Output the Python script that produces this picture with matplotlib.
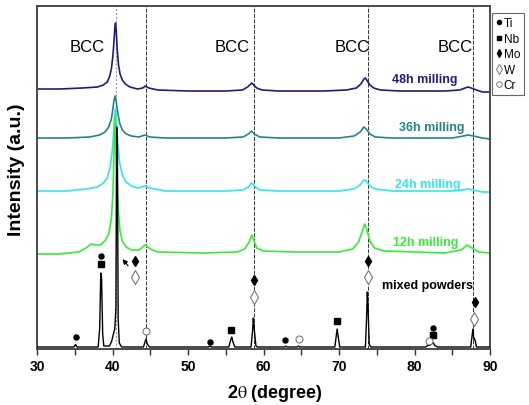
import matplotlib
matplotlib.use("Agg")
import matplotlib.pyplot as plt
from matplotlib.lines import Line2D

plt.rcParams['font.family'] = ['Liberation Sans', 'DejaVu Sans']
plt.rcParams['mathtext.fontset'] = 'stix'

# XRD patterns (2theta in degree, intensity in a.u. incl. stacking offset)
tt_48h = [30, 33, 36, 38, 38.8, 39.3, 39.6, 39.85, 40.05, 40.2, 40.32, 40.4, 40.5, 40.62, 40.8, 41.0,
          41.3, 41.7, 42.3, 43.3, 44.0, 44.35, 44.8, 46, 50, 55, 57.2, 57.9, 58.3, 58.45, 58.7, 59.1,
          59.8, 62, 68, 71, 72.3, 72.9, 73.3, 73.5, 73.75, 74.1, 74.6, 75.5, 78, 84, 86.0, 86.7, 87.1,
          87.5, 88.2, 89, 90]
i_48h = [260, 260, 261, 262, 264, 267, 272, 280, 293, 308, 322, 326, 318, 300, 284, 275,
         269, 265, 262, 260, 261, 263, 261, 259, 258, 258, 259, 262, 265, 266, 264, 261,
         259, 258, 258, 259, 261, 265, 270, 271, 268, 264, 261, 259, 258, 258, 259, 261, 262,
         261, 259, 257, 257]

tt_36h = [30, 34, 37, 38.3, 39.0, 39.5, 39.85, 40.05, 40.2, 40.35, 40.5, 40.7, 40.95, 41.3, 41.8,
          42.5, 43.5, 44.3, 44.9, 47, 55, 57.3, 58.0, 58.4, 58.8, 59.5, 62, 70, 72.0, 72.8, 73.3,
          73.6, 74.1, 74.8, 77, 85, 86.5, 87.1, 87.8, 89, 90]
i_36h = [211, 211, 212, 214, 217, 222, 230, 240, 249, 253, 247, 236, 226, 219, 215,
         213, 212, 214, 212, 211, 211, 212, 215, 218, 215, 212, 211, 211, 213, 217, 222,
         220, 215, 212, 211, 211, 213, 214, 213, 211, 210]

tt_24h = [30, 34, 36.5, 37.3, 38.0, 38.8, 39.3, 39.7, 40.0, 40.2, 40.35, 40.5, 40.7, 40.95, 41.3,
          41.8, 42.5, 43.4, 44.3, 44.9, 47, 55, 57.3, 58.0, 58.4, 58.8, 59.5, 62, 70, 72.0, 72.8,
          73.3, 73.6, 74.1, 74.8, 77, 85, 86.4, 87.0, 87.7, 89, 90]
i_24h = [158, 158, 160, 161, 162, 166, 171, 182, 200, 222, 240, 230, 205, 186, 174,
         167, 163, 161, 163, 161, 158, 158, 159, 162, 166, 163, 159, 158, 158, 160, 164,
         169, 168, 163, 160, 158, 158, 159, 160, 159, 157, 157]

tt_12h = [30, 33, 35.5, 36.5, 37.2, 37.8, 38.4, 39.0, 39.5, 39.85, 40.05, 40.2, 40.3, 40.42, 40.6,
          40.8, 41.0, 41.3, 41.8, 42.5, 43.5, 44.35, 45.0, 46, 52, 56.5, 57.5, 58.1, 58.45, 58.7,
          59.1, 60, 64, 70, 71.8, 72.6, 73.1, 73.4, 73.7, 74.1, 74.7, 76, 84, 86.2, 87.0, 87.6,
          88.5, 90]
i_12h = [95, 95, 97, 101, 105, 104, 104, 108, 115, 130, 155, 195, 232, 215, 170,
         135, 118, 108, 102, 99, 99, 104, 100, 97, 96, 97, 100, 107, 114, 109,
         101, 98, 97, 97, 100, 107, 118, 125, 119, 108, 101, 98, 96, 99, 104, 101,
         97, 96]

tt_mix = [30, 34.9, 35.1, 35.3, 38.1, 38.3, 38.45, 38.55, 38.7, 38.85, 39.6, 39.9, 40.15, 40.3,
          40.45, 40.55, 40.65, 40.75, 40.9, 41.2, 44.1, 44.3, 44.45, 44.6, 44.9, 52.7, 52.9, 53.1,
          55.4, 55.65, 55.8, 55.95, 56.2, 58.35, 58.55, 58.65, 58.75, 58.85, 59.0, 59.2, 62.8,
          62.95, 63.1, 64.5, 64.65, 64.8, 69.45, 69.65, 69.75, 69.9, 70.1, 73.5, 73.65, 73.75,
          73.85, 74.0, 74.2, 81.5, 81.8, 82.0, 82.2, 82.45, 82.7, 83.0, 87.45, 87.65, 87.75,
          87.85, 87.95, 88.05, 88.2, 90]
i_mix = [2, 2, 4.5, 2, 2, 20, 76, 72, 15, 3, 3, 8, 16, 20,
         40, 222, 200, 30, 6, 2, 2, 7, 10, 5, 2, 2, 3, 2,
         2, 9, 12, 7, 2, 2, 18, 31, 22, 14, 3, 2, 2,
         2.8, 2, 2, 3, 2, 2, 14, 20, 12, 2, 2, 30, 57,
         42, 5, 2, 2, 4, 3.5, 4.5, 6.5, 3.5, 2, 2, 15, 20,
         10, 10, 8, 2, 2]

# phase markers on the mixed powder pattern
ti_x, ti_y = [35.1, 38.5, 52.9, 62.9, 82.4], [12, 93, 7, 9, 21]
nb_x, nb_y = [38.5, 55.7, 69.8, 82.4], [85, 19, 28, 14]
mo_x, mo_y = [43.0, 58.8, 73.8, 88.0], [88, 69, 88, 47]
w_x, w_y = [43.0, 58.8, 73.8, 87.9], [72, 52, 72, 30]
cr_x, cr_y = [44.4, 64.7, 81.9], [18, 10, 8]

bcc_lines = [44.4, 58.7, 73.8, 87.8]
bcc_label_x = [36.6, 55.8, 71.7, 85.4]

fig = plt.figure(figsize=(5.29, 4.06), dpi=100)
ax = fig.add_axes([37/529, 56/406, 453/529, 343/406])

# reference lines
ax.axvline(40.5, color='#9a9a9a', lw=0.8, ls=(0, (2, 1.5)), zorder=1)
for x in bcc_lines:
    ax.axvline(x, color='#333333', lw=0.7, ls=(0, (4, 1.5)), zorder=1)

ax.plot(tt_48h, i_48h, color='#1c1c84', lw=1.2, zorder=2)
ax.plot(tt_36h, i_36h, color='#238585', lw=1.2, zorder=2)
ax.plot(tt_24h, i_24h, color='#33e5ea', lw=1.2, zorder=2)
ax.plot(tt_12h, i_12h, color='#33ee33', lw=1.2, zorder=2)
ax.plot(tt_mix, i_mix, color='black', lw=1.0, zorder=3)

ax.plot(ti_x, ti_y, 'o', ms=3.6, color='black', zorder=4)
ax.plot(nb_x, nb_y, 's', ms=4.3, color='black', zorder=4)
ax.plot(mo_x, mo_y, 'd', ms=5.5, color='black', zorder=4)
ax.plot(w_x, w_y, 'd', ms=7, mfc='white', mec='#777777', mew=0.8, zorder=4)
ax.plot(cr_x, cr_y, 'o', ms=5, mfc='white', mec='#777777', mew=0.8, zorder=4)

ax.annotate('', xy=(41.1, 92), xytext=(42.3, 81),
            arrowprops=dict(arrowstyle='-|>', color='black', lw=0.8, mutation_scale=7))

for x in bcc_label_x:
    ax.text(x, 302, 'BCC', fontsize=12, ha='center', va='center')

lab_kw = dict(fontsize=9, fontweight='bold', ha='center', va='center')
ax.text(81.3, 270, '48h milling', color='#1c1c84', **lab_kw)
ax.text(82.3, 222, '36h milling', color='#238585', **lab_kw)
ax.text(81.7, 165, '24h milling', color='#33e5ea', **lab_kw)
ax.text(81.5, 107, '12h milling', color='#33ee33', **lab_kw)
ax.text(81.7, 64, 'mixed powders', color='black', **lab_kw)

ax.set_xlim(30, 90)
ax.set_ylim(0, 343)
ax.set_xticks(range(30, 91, 10))
ax.set_xticks(range(35, 90, 10), minor=True)
ax.tick_params(axis='x', which='both', direction='out', length=4, width=1, colors='#333333',
               labelsize=10, labelcolor='black', pad=3)
ax.set_yticks([])
for lbl in ax.get_xticklabels():
    lbl.set_fontweight('bold')
for s in ax.spines.values():
    s.set_color('#4a4a4a')
    s.set_linewidth(1.4)

ax.set_xlabel(r'2$\mathrm{\theta}$ (degree)', fontsize=13, fontweight='bold')
ax.xaxis.set_label_coords(0.525, -0.095)
ax.set_ylabel('Intensity (a.u.)', fontsize=14, fontweight='bold')
ax.yaxis.set_label_coords(-0.027, 0.525)

handles = [Line2D([], [], ls='none', marker='o', ms=3, color='black'),
           Line2D([], [], ls='none', marker='s', ms=3.5, color='black'),
           Line2D([], [], ls='none', marker='d', ms=4, color='black'),
           Line2D([], [], ls='none', marker='d', ms=5, mfc='white', mec='#777777', mew=0.7),
           Line2D([], [], ls='none', marker='o', ms=4, mfc='white', mec='#777777', mew=0.7)]
leg = ax.legend(handles, ['Ti', 'Nb', 'Mo', 'W', 'Cr'], loc='upper left',
                bbox_to_anchor=(492/529, 1 - 14/406), bbox_transform=fig.transFigure,
                borderaxespad=0, borderpad=0.35, handlelength=0.5, handletextpad=0.15,
                labelspacing=0.3, fontsize=8.5, fancybox=False, edgecolor='#666666',
                framealpha=1)
leg.get_frame().set_linewidth(0.8)

fig.savefig('out.png', dpi=100)
